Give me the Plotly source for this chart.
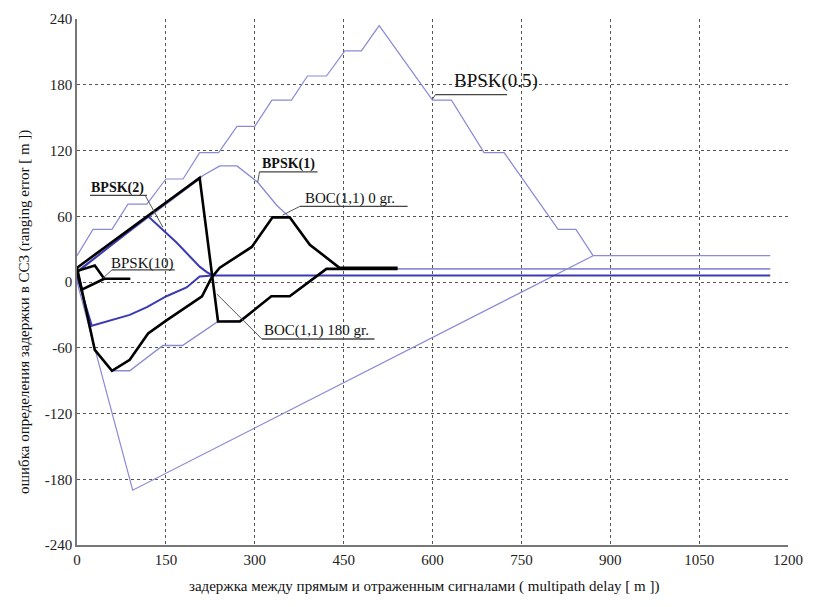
import plotly.graph_objects as go

# ---------------- data ----------------
# BPSK(0.5)
bpsk05_up_x = [0, 27, 59, 86, 118, 150, 179, 207, 239, 270, 300, 329, 362, 389, 421, 452, 480, 510, 600, 632, 687, 721, 812, 842, 871, 1170]
bpsk05_up_y = [24, 48, 48, 71, 71, 94, 94, 118, 118, 142, 142, 166, 166, 188, 188, 211, 211, 234, 166, 166, 118, 118, 48, 48, 24, 24]
bpsk05_lo_x = [0, 94, 871]
bpsk05_lo_y = [0, -190, 24]

# BPSK(1)
bpsk1_up_x = [0, 207, 212, 241, 270, 305, 337, 354, 359, 393, 443, 1170]
bpsk1_up_y = [10, 94, 97, 106, 106, 91, 70, 61, 59, 34, 12, 12]
bpsk1_lo_x = [0, 30, 59, 89, 145, 178, 238, 275, 328, 359, 421, 443, 1170]
bpsk1_lo_y = [10, -62, -81, -81, -58, -58, -36, -35, -13, -13, 12, 12, 12]

# BPSK(2)
bpsk2_up_x = [0, 120, 168, 207, 219, 229, 1170]
bpsk2_up_y = [9, 60, 36, 14, 9, 6, 6]
bpsk2_lo_x = [0, 25, 89, 118, 151, 185, 207, 229]
bpsk2_lo_y = [5, -40, -30, -23, -13, -5, 5, 6]

# BPSK(10)
bpsk10_up_x = [0, 30, 46, 90]
bpsk10_up_y = [10, 15, 3, 3]
bpsk10_lo_x = [0, 8, 46]
bpsk10_lo_y = [10, -7, 3]

# BOC(1,1) 180 gr.
boc180_x = [0, 207, 238, 275, 328, 359, 421, 448, 541]
boc180_y = [13, 95, -36, -36, -13, -13, 12, 12, 12]
# BOC(1,1) 0 gr.
boc0_x = [0, 30, 59, 89, 120, 151, 211, 227, 241, 295, 330, 359, 393, 443, 541]
boc0_y = [13, -62, -81, -71, -47, -35, -13, 4, 13, 32, 59, 59, 34, 13, 13]

x_ticks = [0, 150, 300, 450, 600, 750, 900, 1050, 1200]
y_ticks = [-240, -180, -120, -60, 0, 60, 120, 180, 240]

x_title = "задержка между прямым и отраженным сигналами ( multipath delay [ m ])"
y_title = "ошибка определения задержки в СС3 (ranging error [ m ])"

# labels: text, text position, underline (x0,x1,y), leader (x0,y0,x1,y1), size, bold
labels = [
    ("BPSK(0.5)", 707, 183, (605, 726, 171), (600, 167, 605, 171), 19, False),
    ("BPSK(1)", 357, 108, (308, 406, 100.5), (305, 91, 308, 100.5), 14, True),
    ("BPSK(2)", 69, 86, (22, 118, 79), (115, 79, 145, 50), 14, True),
    ("BPSK(10)", 110, 17, (59, 165, 11), (59, 11, 44, 3.6), 15, False),
    ("BOC(1,1) 0 gr.", 460, 76, (376, 558, 69), (376, 69, 347, 61), 15, False),
    ("BOC(1,1) 180 gr.", 404, -44, (312, 502, -52), (312, -52, 236, -11), 15, False),
]

LIGHT = "#8a8ad6"
MID = "#3a3ab4"
BLACK = "#000000"

fig = go.Figure()

def add(x, y, color, width, name):
    fig.add_trace(go.Scatter(x=x, y=y, mode="lines", name=name,
                             line=dict(color=color, width=width), showlegend=False,
                             hoverinfo="skip"))

add(bpsk05_up_x, bpsk05_up_y, LIGHT, 1.2, "BPSK(0.5)")
add(bpsk05_lo_x, bpsk05_lo_y, LIGHT, 1.2, "BPSK(0.5)")
add(bpsk1_up_x, bpsk1_up_y, LIGHT, 1.4, "BPSK(1)")
add(bpsk1_lo_x, bpsk1_lo_y, LIGHT, 1.4, "BPSK(1)")
add(bpsk2_up_x, bpsk2_up_y, MID, 2, "BPSK(2)")
add(bpsk2_lo_x, bpsk2_lo_y, MID, 2, "BPSK(2)")
add(boc180_x, boc180_y, BLACK, 2.6, "BOC(1,1) 180 gr.")
add(boc0_x, boc0_y, BLACK, 2.6, "BOC(1,1) 0 gr.")
add(bpsk10_up_x, bpsk10_up_y, BLACK, 2.6, "BPSK(10)")
add(bpsk10_lo_x, bpsk10_lo_y, BLACK, 2.6, "BPSK(10)")

shapes = []
annotations = []
FONT = "Liberation Serif"
for text, tx, ty, ul, ld, size, bold in labels:
    annotations.append(dict(x=tx, y=ty, xref="x", yref="y", text=("<b>%s</b>" % text) if bold else text,
                            showarrow=False, font=dict(family=FONT, size=size, color="#111111")))
    shapes.append(dict(type="line", xref="x", yref="y", x0=ul[0], x1=ul[1], y0=ul[2], y1=ul[2],
                       line=dict(color="#444444", width=1.3)))
    shapes.append(dict(type="line", xref="x", yref="y", x0=ld[0], y0=ld[1], x1=ld[2], y1=ld[3],
                       line=dict(color="#555555", width=1)))

annotations.append(dict(x=586, y=-0.079, xref="x", yref="paper", text=x_title, showarrow=False,
                        yanchor="middle", font=dict(family=FONT, size=15, color="#111111")))
annotations.append(dict(x=-0.074, y=-27, xref="paper", yref="y", text=y_title, showarrow=False,
                        textangle=-90, xanchor="center", yanchor="middle",
                        font=dict(family=FONT, size=15, color="#111111")))

fig.update_layout(
    width=814, height=607,
    margin=dict(l=77, r=22, t=11, b=62),
    paper_bgcolor="white", plot_bgcolor="white",
    shapes=shapes, annotations=annotations,
    font=dict(family=FONT, size=15, color="#111111"),
)
fig.update_xaxes(range=[0, 1200], tickvals=x_ticks, ticktext=[str(v) for v in x_ticks],
                 showgrid=True, gridcolor="#555555", griddash="dot", gridwidth=1,
                 zeroline=False, showline=True, linecolor="#777777", linewidth=1.5,
                 ticks="", tickfont=dict(family=FONT, size=15, color="#222222"))
fig.update_yaxes(range=[-240, 240], tickvals=y_ticks, ticktext=[str(v) for v in y_ticks],
                 showgrid=True, gridcolor="#555555", griddash="dot", gridwidth=1,
                 zeroline=False, showline=True, linecolor="#777777", linewidth=1.5,
                 ticks="", tickfont=dict(family=FONT, size=15, color="#222222"))

fig.write_html("out.html", config={"displayModeBar": False},
               post_script="document.body.style.margin='0';document.body.style.overflow='hidden';")
